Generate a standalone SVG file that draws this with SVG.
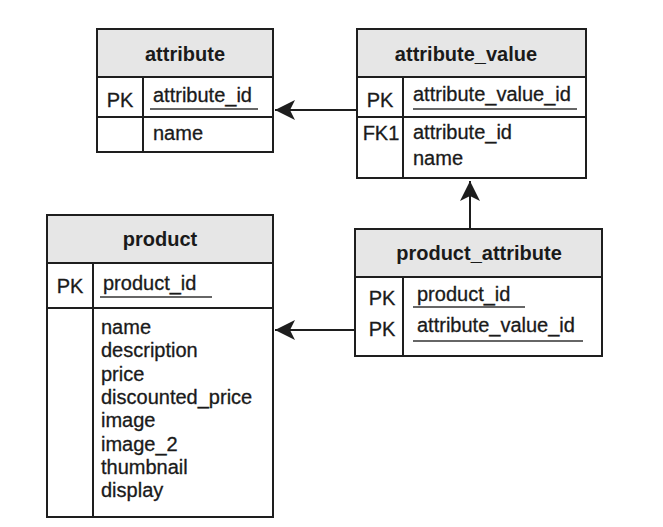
<svg xmlns="http://www.w3.org/2000/svg" width="663" height="527" viewBox="0 0 663 527">
<style>
.box{fill:#fff;stroke:#1e1e1e;stroke-width:2}
.hdr{fill:#e6e6e6;stroke:#1e1e1e;stroke-width:2}
.ln{stroke:#1e1e1e;stroke-width:2;fill:none}
.ul{stroke:#333;stroke-width:1.5}
.t{font-family:"Liberation Sans",Arial,sans-serif;font-size:20px;fill:#1a1a1a;stroke:#1a1a1a;stroke-width:0.3}
.h{font-family:"Liberation Sans",Arial,sans-serif;font-size:20px;font-weight:bold;fill:#1a1a1a;text-anchor:middle}
.k{text-anchor:middle}
.c{stroke:#1e1e1e;stroke-width:2;fill:none;marker-end:url(#arr)}
</style>
<defs>
<marker id="arr" markerUnits="userSpaceOnUse" markerWidth="20" markerHeight="22" refX="20" refY="11" orient="auto" viewBox="0 0 20 22">
<path d="M20,11 L0,1 L5,11 L0,21 Z" fill="#1e1e1e"/>
</marker>
</defs>
<rect width="663" height="527" fill="#fff"/>
<g id="attribute">
<rect class="box" x="97" y="29" width="176" height="123"/>
<rect class="hdr" x="97" y="29" width="176" height="48"/>
<line class="ln" x1="97" y1="117" x2="273" y2="117"/>
<line class="ln" x1="143" y1="77" x2="143" y2="152"/>
<text class="h" x="185" y="61">attribute</text>
<text class="t k" x="120" y="107">PK</text>
<text class="t" x="153" y="102">attribute_id</text>
<line class="ul" x1="150" y1="109" x2="258" y2="109"/>
<text class="t" x="153" y="140">name</text>
</g>
<g id="attribute_value">
<rect class="box" x="357" y="29" width="229" height="149"/>
<rect class="hdr" x="357" y="29" width="229" height="48"/>
<line class="ln" x1="357" y1="117" x2="586" y2="117"/>
<line class="ln" x1="403" y1="77" x2="403" y2="178"/>
<text class="h" x="466" y="61">attribute_value</text>
<text class="t k" x="380" y="107">PK</text>
<text class="t" x="413" y="101">attribute_value_id</text>
<line class="ul" x1="413" y1="109" x2="577" y2="109"/>
<text class="t k" x="381" y="140">FK1</text>
<text class="t" x="413" y="139">attribute_id</text>
<text class="t" x="413" y="165">name</text>
</g>
<g id="product">
<rect class="box" x="47" y="215" width="226" height="302"/>
<rect class="hdr" x="47" y="215" width="226" height="48"/>
<line class="ln" x1="47" y1="308" x2="273" y2="308"/>
<line class="ln" x1="93" y1="263" x2="93" y2="517"/>
<text class="h" x="160" y="246">product</text>
<text class="t k" x="70" y="293">PK</text>
<text class="t" x="103" y="290">product_id</text>
<line class="ul" x1="100" y1="297" x2="212" y2="297"/>
<text class="t" x="101" y="334">name</text>
<text class="t" x="101" y="357.3">description</text>
<text class="t" x="101" y="380.6">price</text>
<text class="t" x="101" y="403.9">discounted_price</text>
<text class="t" x="101" y="427.2">image</text>
<text class="t" x="101" y="450.5">image_2</text>
<text class="t" x="101" y="473.8">thumbnail</text>
<text class="t" x="101" y="497">display</text>
</g>
<g id="product_attribute">
<rect class="box" x="355" y="229" width="247" height="127"/>
<rect class="hdr" x="355" y="229" width="247" height="48"/>
<line class="ln" x1="403" y1="277" x2="403" y2="356"/>
<text class="h" x="479" y="260">product_attribute</text>
<text class="t k" x="382" y="305">PK</text>
<text class="t k" x="382" y="336">PK</text>
<text class="t" x="417" y="301">product_id</text>
<line class="ul" x1="413" y1="307" x2="525" y2="307"/>
<text class="t" x="417" y="332">attribute_value_id</text>
<line class="ul" x1="413" y1="341" x2="583" y2="341"/>
</g>
<g id="connectors">
<line class="c" x1="357" y1="110" x2="275" y2="110"/>
<line class="c" x1="355" y1="330" x2="275" y2="330"/>
<line class="c" x1="470" y1="229" x2="470" y2="181"/>
</g>
</svg>
